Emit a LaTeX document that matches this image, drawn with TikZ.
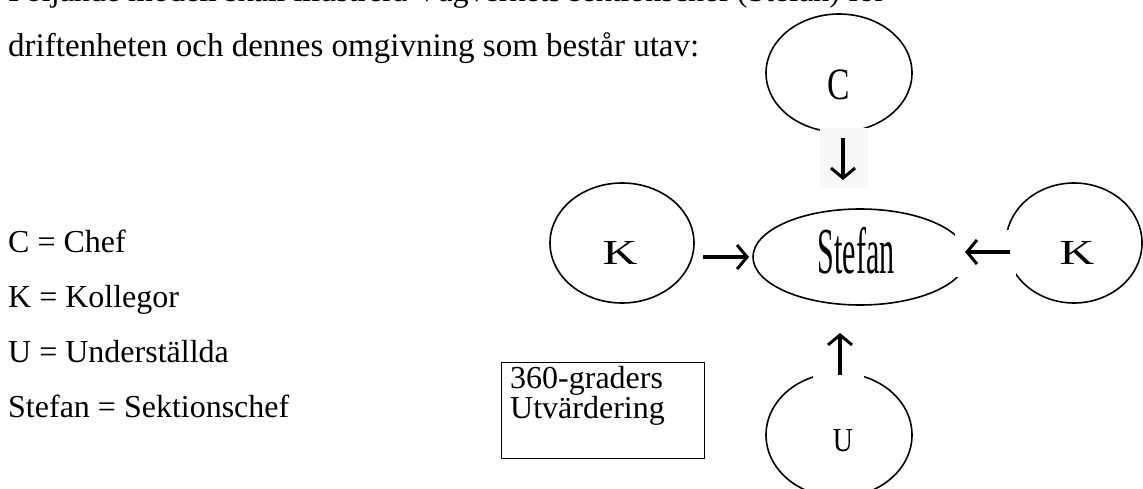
\documentclass[tikz,border=0pt]{standalone}
\usepackage{fontspec}
\setmainfont{Liberation Serif}
\usetikzlibrary{shapes.geometric,arrows.meta}
\begin{document}
\tikzset{
  txt/.style={inner sep=0pt, anchor=base west, font=\fontsize{32}{32}\selectfont},
  letter/.style={inner sep=0pt, font=\fontsize{32}{32}\selectfont},
  bubble/.style={ellipse, draw, line width=1.6pt, inner sep=0pt},
  arr/.style={line width=3.4pt, -{Straight Barb[length=10pt,width=24pt,line width=3pt]}},
  framebox/.style={draw, line width=1.4pt, anchor=north west, inner sep=0pt,
                   minimum width=203pt, minimum height=96pt},
  gapfill/.style={fill=white},
}
\begin{tikzpicture}[x=1pt,y=-1pt]
\clip (0,0) rectangle (1143,489);
\fill[white] (0,0) rectangle (1143,489);

% running text above the model
\node[txt] (intro1) at (8,2) {Följande modell skall illustrera Vägverkets sektionschef (Stefan) för};
\node[txt, font=\fontsize{33}{33}\selectfont] (intro2) at (8,57) {driftenheten och dennes omgivning som består utav:};

% legend
\node[txt] (legC) at (8,252) {C = Chef};
\node[txt] (legK) at (8,307) {K = Kollegor};
\node[txt] (legU) at (8,362) {U = Underställda};
\node[txt] (legS) at (8,417) {Stefan = Sektionschef};

% evaluation box
\node[framebox] (eval) at (501,362) {};
\node[txt] (evalA) at (510,388) {360-graders};
\node[txt] (evalB) at (510,418) {Utvärdering};

% the model: Stefan and his surroundings
\node[bubble, minimum width=146pt, minimum height=118pt,
      label={[letter,yshift=-12pt]center:\scalebox{1.05}[1.4]{C}}] (chef) at (839,73) {};
\node[bubble, minimum width=214pt, minimum height=96pt,
      label={[letter,xshift=-4pt,yshift=6pt]center:\scalebox{0.94}[2.05]{Stefan}}] (stefan) at (860,257) {};
\node[bubble, minimum width=144pt, minimum height=120pt,
      label={[letter,xshift=-2pt,yshift=-10pt]center:\scalebox{1.5}[1.1]{K}}] (kolL) at (622,243) {};
\node[bubble, minimum width=136pt, minimum height=120pt,
      label={[letter,xshift=3pt,yshift=-10pt]center:\scalebox{1.5}[1.1]{K}}] (kolR) at (1074,243) {};
\node[bubble, minimum width=146pt, minimum height=124pt,
      label={[letter,xshift=4pt,yshift=-6pt]center:\scalebox{0.87}[1.05]{U}}] (under) at (839,435) {};

% backgrounds behind the arrows
\fill[black!3] (820,128) rectangle (868,188);
\fill[gapfill] (813,328) rectangle (864,378);
\fill[gapfill] (955,230) rectangle (1016,277);

% arrow end points
\coordinate (cA) at (843,138);  \coordinate (cB) at (843,180);
\coordinate (uA) at (840,375);  \coordinate (uB) at (840,333);
\coordinate (lA) at (703,257);  \coordinate (lB) at (749,257);
\coordinate (rA) at (1010,252); \coordinate (rB) at (965,252);

\draw[arr] (cA) -- (cB);
\draw[arr] (uA) -- (uB);
\draw[arr] (lA) -- (lB);
\draw[arr] (rA) -- (rB);
\end{tikzpicture}
\end{document}
